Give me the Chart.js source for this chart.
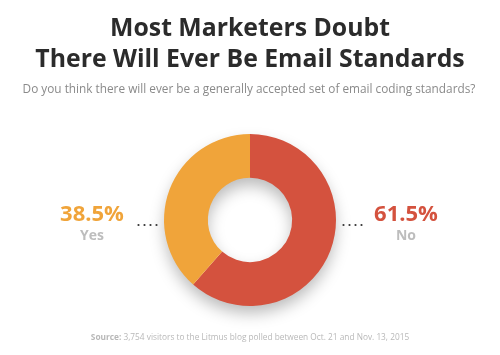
<!DOCTYPE html>
<html>
<head>
<meta charset="utf-8">
<script src="https://cdn.jsdelivr.net/npm/chart.js@4"></script>
<style>
  html, body { margin: 0; padding: 0; background: #ffffff; }
  #wrap { width: 500px; height: 355px; position: relative; }
</style>
</head>
<body>
<div id="wrap"><canvas id="c" width="500" height="355"></canvas></div>
<script>
const categories = ["No", "Yes"];
const values = [61.5, 38.5];
const valueLabels = ["61.5%", "38.5%"];
const colors = ["#D4523E", "#F0A43A"];
const titleLines = ["Most Marketers Doubt", "There Will Ever Be Email Standards"];
const subtitleText = "Do you think there will ever be a generally accepted set of email coding standards?";
const sourceBold = "Source:";
const sourceText = " 3,754 visitors to the Litmus blog polled between Oct. 21 and Nov. 13, 2015";

const shadowPlugin = {
  id: 'ringShadow',
  beforeDatasetsDraw(chart) {
    const arc = chart.getDatasetMeta(0).data[0];
    if (!arc) return;
    const ctx = chart.ctx;
    const { x, y, outerRadius, innerRadius } = arc.getProps(['x', 'y', 'outerRadius', 'innerRadius'], true);
    ctx.save();
    ctx.shadowColor = 'rgba(0,0,0,0.28)';
    ctx.shadowBlur = 16;
    ctx.shadowOffsetY = 8;
    ctx.fillStyle = '#ffffff';
    ctx.beginPath();
    ctx.arc(x, y, outerRadius - 1, 0, Math.PI * 2);
    ctx.arc(x, y, innerRadius + 1, 0, Math.PI * 2, true);
    ctx.fill('evenodd');
    ctx.restore();
  }
};

const textPlugin = {
  id: 'texts',
  afterDraw(chart) {
    const ctx = chart.ctx;
    ctx.save();
    ctx.textAlign = 'center';
    ctx.textBaseline = 'alphabetic';
    // title
    ctx.fillStyle = '#2b2b2b';
    ctx.font = '700 24.8px "Open Sans"';
    ctx.fillText(titleLines[0], 250, 36);
    ctx.fillText(titleLines[1], 250, 67);
    // subtitle
    ctx.fillStyle = '#8a8a8a';
    ctx.font = '400 11.8px "Open Sans"';
    ctx.fillText(subtitleText, 249, 93);

    // side labels
    const meta = chart.getDatasetMeta(0);
    const arc = meta.data[0];
    const cy = arc.y;
    const sides = [
      { i: 1, x: 92, dotX: 147.5 },
      { i: 0, x: 406, dotX: 352.5 }
    ];
    sides.forEach(s => {
      ctx.fillStyle = colors[s.i];
      ctx.font = '700 22px "Open Sans"';
      ctx.textBaseline = 'middle';
      ctx.fillText(valueLabels[s.i], s.x, cy - 5);
      ctx.fillStyle = '#bdbdbd';
      ctx.font = '700 14px "Open Sans"';
      ctx.fillText(categories[s.i], s.x, cy + 16);
      ctx.fillStyle = '#333333';
      for (let k = 0; k < 4; k++) {
        ctx.beginPath();
        ctx.arc(s.dotX - 9 + k * 6, cy + 5, 1.1, 0, Math.PI * 2);
        ctx.fill();
      }
    });

    // source
    ctx.textBaseline = 'middle';
    ctx.font = '700 8.3px "Open Sans"';
    const wb = ctx.measureText(sourceBold).width;
    ctx.font = '400 8.3px "Open Sans"';
    const wr = ctx.measureText(sourceText).width;
    const startX = 250 - (wb + wr) / 2;
    ctx.textAlign = 'left';
    ctx.fillStyle = '#b8b8b8';
    ctx.font = '700 8.3px "Open Sans"';
    ctx.fillText(sourceBold, startX, 338);
    ctx.font = '400 8.3px "Open Sans"';
    ctx.fillText(sourceText, startX + wb, 338);
    ctx.restore();
  }
};

new Chart(document.getElementById('c'), {
  type: 'doughnut',
  data: {
    labels: categories,
    datasets: [{
      data: values,
      backgroundColor: colors,
      borderWidth: 0,
      hoverOffset: 0
    }]
  },
  options: {
    responsive: false,
    animation: false,
    cutout: '49%',
    rotation: 0,
    layout: { padding: { top: 134, bottom: 49, left: 0, right: 0 } },
    plugins: {
      legend: { display: false },
      tooltip: { enabled: false },
      title: { display: false }
    },
    events: []
  },
  plugins: [shadowPlugin, textPlugin]
});
</script>
</body>
</html>
